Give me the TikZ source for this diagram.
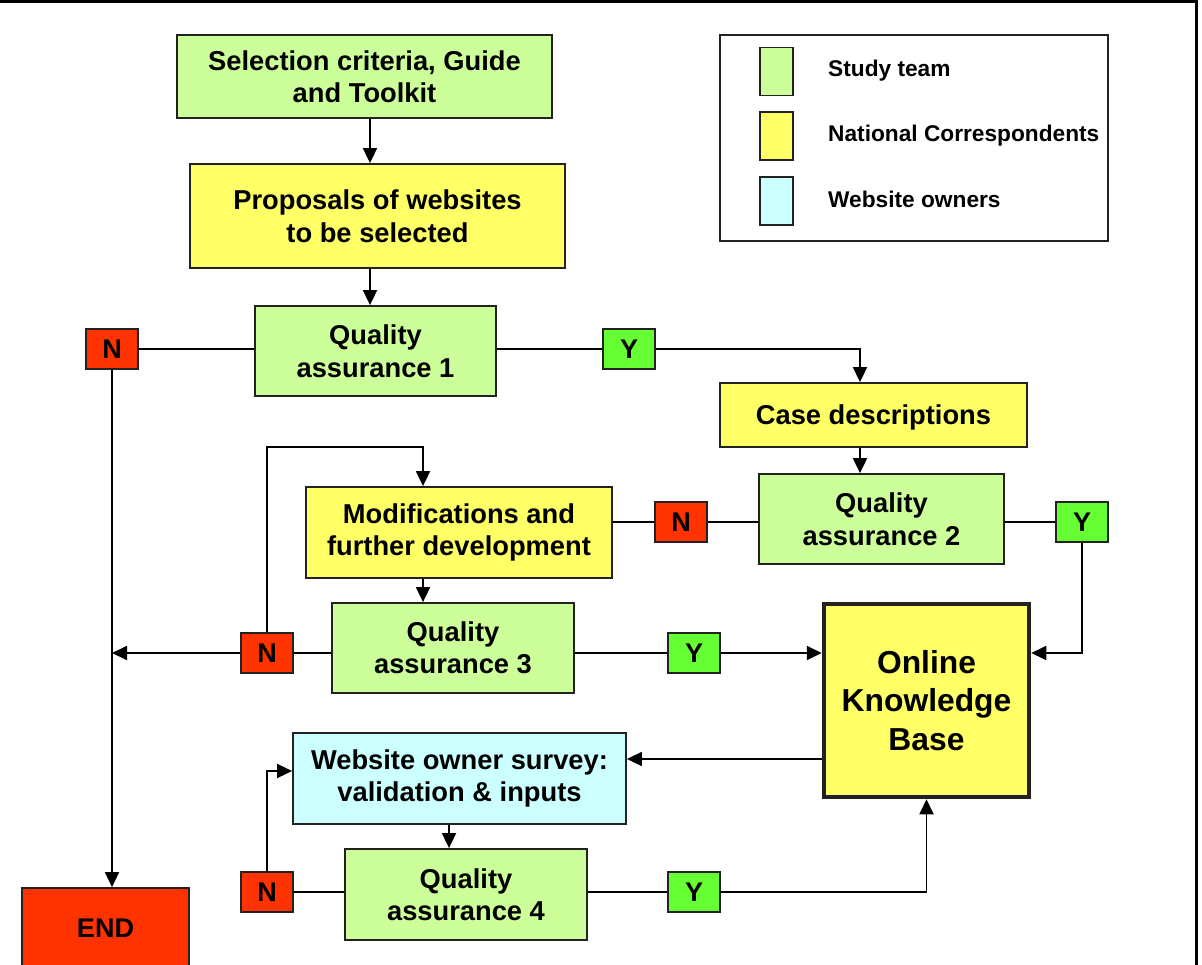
\documentclass[tikz,border=0pt]{standalone}
\usepackage{fontspec}
\setmainfont{Liberation Sans}
\usetikzlibrary{arrows.meta,calc}
\definecolor{lgreen}{HTML}{CCFF99}
\definecolor{lyellow}{HTML}{FFFF66}
\definecolor{lcyan}{HTML}{CCFFFF}
\definecolor{nred}{HTML}{FF3300}
\definecolor{ygreen}{HTML}{66FF33}
\definecolor{edge}{HTML}{222222}
\tikzset{
  x=1pt, y=-1pt,
  box/.style={draw=edge, line width=1.8pt, align=center, inner sep=0pt,
    font=\fontsize{27.3}{32.5}\selectfont\bfseries},
  tag/.style={draw=edge, line width=1.8pt, inner sep=0pt, minimum width=52pt,
    minimum height=40pt, font=\fontsize{27}{30}\selectfont\bfseries},
  ntag/.style={tag, fill=nred},
  ytag/.style={tag, fill=ygreen},
  conn/.style={line width=1.8pt, draw=black},
  arr/.style={conn, -{Triangle[length=15pt,width=14pt]}},
  swatch/.style={draw=edge, line width=1.5pt, minimum width=33pt, minimum height=48pt, inner sep=0pt},
  legtxt/.style={anchor=west, inner sep=0pt, font=\fontsize{22.7}{26}\selectfont\bfseries}
}
\begin{document}
\begin{tikzpicture}
\useasboundingbox (0,0) rectangle (1202,965);
% outer frame (partly visible)
\draw[line width=3pt] (0,2) -- (1196,2) -- (1196,970);

% legend
\node[draw=edge, line width=1.5pt, minimum width=388pt, minimum height=206pt, inner sep=0pt] (legend) at (914,138) {};
\node[swatch, fill=lgreen] (sw1) at (776.5,71.5) {};
\node[swatch, fill=lyellow] (sw2) at (776.5,136) {};
\node[swatch, fill=lcyan] (sw3) at (776.5,201) {};
\node[legtxt] (lt1) at (828,71) {Study team};
\node[legtxt] (lt2) at (828,135.5) {National Correspondents};
\node[legtxt] (lt3) at (828,199.5) {Website owners};

% main boxes
\node[box, fill=lgreen, minimum width=375pt, minimum height=83pt] (sel) at (364.5,76.5) {Selection criteria, Guide\\and Toolkit};
\node[box, fill=lyellow, minimum width=375pt, minimum height=104pt] (prop) at (377.5,216) {Proposals of websites\\to be selected};
\node[box, fill=lgreen, minimum width=241pt, minimum height=90pt] (qa1) at (375.5,351) {Quality\\assurance 1};
\node[box, fill=lyellow, minimum width=307pt, minimum height=64pt, text depth=0pt] (case) at (873.5,415) {Case descriptions};
\node[box, fill=lgreen, minimum width=245pt, minimum height=90pt] (qa2) at (881.5,519) {Quality\\assurance 2};
\node[box, fill=lyellow, minimum width=306pt, minimum height=91pt] (mod) at (459,532.5) {Modifications and\\further development};
\node[box, fill=lgreen, minimum width=242pt, minimum height=90pt] (qa3) at (453,648) {Quality\\assurance 3};
\node[box, fill=lyellow, line width=4.5pt, minimum width=205pt, minimum height=193pt,
  font=\fontsize{31.8}{38.5}\selectfont\bfseries] (okb) at (926.5,700.5) {Online\\Knowledge\\Base};
\node[box, fill=lcyan, minimum width=333pt, minimum height=91pt] (survey) at (459.5,778.5) {Website owner survey:\\validation \& inputs};
\node[box, fill=lgreen, minimum width=242pt, minimum height=91pt] (qa4) at (466,894.5) {Quality\\assurance 4};
\node[box, fill=nred, minimum width=167pt, minimum height=100pt] (end) at (105.5,938) {};
\node[inner sep=0pt, font=\fontsize{27}{32}\selectfont\bfseries] (endtxt) at (105.5,928) {END};

% Y/N tags
\node[ntag] (n1) at (112,349) {N};
\node[ytag] (y1) at (629,349) {Y};
\node[ntag] (n2) at (681,522) {N};
\node[ytag] (y2) at (1082,522) {Y};
\node[ntag] (n3) at (267,653) {N};
\node[ytag] (y3) at (694,653) {Y};
\node[ntag] (n4) at (267,892) {N};
\node[ytag] (y4) at (694,892) {Y};

% helper corner
\coordinate (m1) at (423,447);

% connectors
\draw[arr] ([xshift=5.5pt]sel.south) -- ([xshift=5.5pt]sel.south |- prop.north);
\draw[arr] ([xshift=5.5pt]sel.south |- prop.south) -- ([xshift=5.5pt]sel.south |- qa1.north);
\draw[conn] (n1.east) -- (n1.east -| qa1.west);
\draw[conn] (qa1.east |- y1.west) -- (y1.west);
\draw[arr] (y1.east) -| ([xshift=-13.5pt]case.north);
\draw[arr] (n1.south) -- (n1.south |- end.north);
\draw[arr] ([xshift=-13.5pt]case.south) -- ([xshift=-13.5pt]case.south |- qa2.north);
\draw[conn] (n2.west) -- (n2.west -| mod.east);
\draw[conn] (n2.east) -- (n2.east -| qa2.west);
\draw[conn] (qa2.east |- y2.west) -- (y2.west);
\draw[arr] (y2.south) |- (okb.east |- y3.east);
\draw[arr] (mod.south -| m1) -- (qa3.north -| m1);
\draw[conn] (n3.east) -- (n3.east -| qa3.west);
\draw[arr] (n3.west) -- (n3.west -| n1.south);
\draw[arr] (n3.north) |- (m1) -- (m1 |- mod.north);
\draw[conn] (qa3.east |- y3.west) -- (y3.west);
\draw[arr] (y3.east) -- (y3.east -| okb.west);
\draw[arr] ([yshift=-58.5pt]okb.west) -- ([yshift=-58.5pt]okb.west -| survey.east);
\draw[arr] ([xshift=-10.5pt]survey.south) -- ([xshift=-10.5pt]survey.south |- qa4.north);
\draw[conn] (n4.east) -- (n4.east -| qa4.west);
\draw[arr] (n4.north) |- ([yshift=7.5pt]survey.west);
\draw[conn] (qa4.east |- y4.west) -- (y4.west);
\draw[arr] (y4.east) -| (okb.south);
\end{tikzpicture}
\end{document}
